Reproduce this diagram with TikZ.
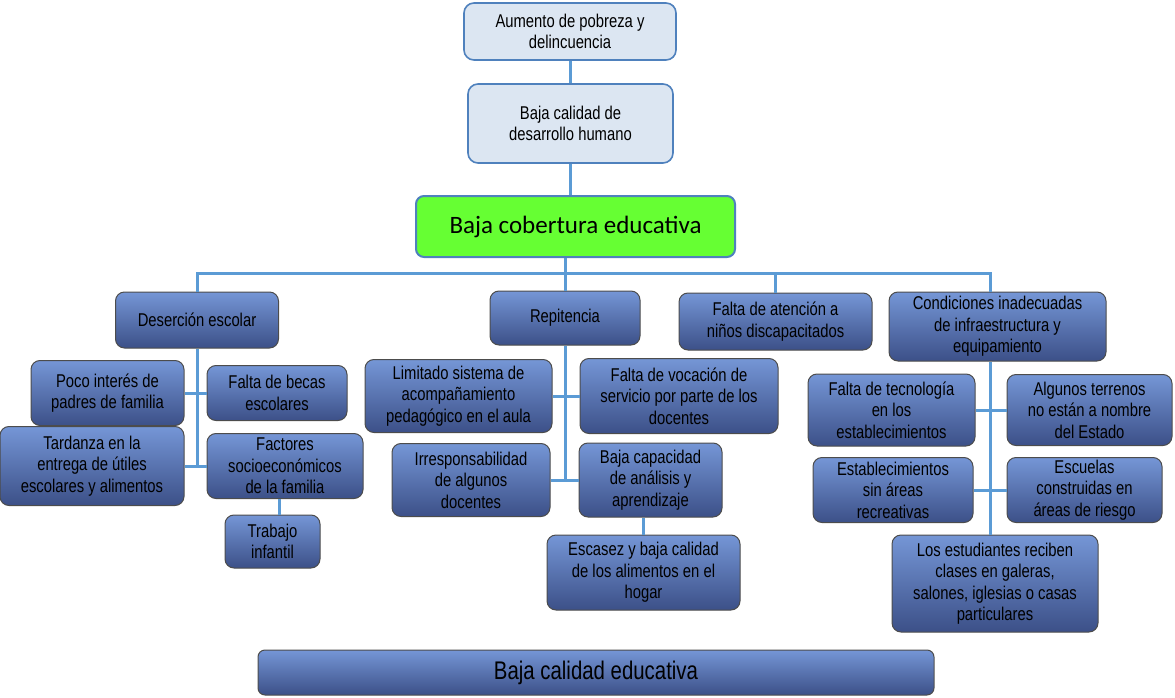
\documentclass[tikz,border=0pt]{standalone}
\usepackage{fontspec}
\setmainfont[FakeStretch=0.80]{Liberation Sans}
\newfontfamily\calibri{Carlito}
\definecolor{conector}{HTML}{5B9BD5}
\definecolor{cajaarriba}{HTML}{7596D6}
\definecolor{cajaabajo}{HTML}{3C5088}
\definecolor{efectofondo}{HTML}{DCE6F2}
\definecolor{efectoborde}{HTML}{4F81BD}
\definecolor{verde}{HTML}{66FF33}
\begin{document}
\begin{tikzpicture}[x=1pt,y=-1pt,
  causa/.style={draw=black!70,line width=1pt,rounded corners=9pt,top color=cajaarriba,bottom color=cajaabajo,align=center,inner sep=1pt,font=\fontsize{18.5}{21.5}\selectfont},
  efecto/.style={draw=efectoborde,line width=1.6pt,rounded corners=10pt,fill=efectofondo,align=center,inner sep=1pt,font=\fontsize{18.5}{21.5}\selectfont},
  linea/.style={conector,line width=3pt}]
\useasboundingbox (0,0) rectangle (1175,698);
% efectos
\node[efecto,minimum width=212pt,minimum height=57pt] (aum) at (570,31.5) {Aumento de pobreza y\\delincuencia};
\node[efecto,minimum width=205pt,minimum height=79pt] (des) at (570.5,123.5) {Baja calidad de\\desarrollo humano};
\node[draw=efectoborde,line width=2pt,rounded corners=8pt,fill=verde,minimum width=319pt,minimum height=61pt,font=\calibri\fontsize{25}{29}\selectfont] (cob) at (575.5,226.5) {Baja cobertura educativa};
% causas directas
\node[causa,minimum width=163pt,minimum height=56pt] (deser) at (197,320) {Deserción escolar};
\node[causa,minimum width=150pt,minimum height=54pt] (rep) at (565,318) {Repitencia};
\node[causa,minimum width=193pt,minimum height=57pt] (aten) at (775.5,321.5) {Falta de atención a\\niños discapacitados};
\node[causa,minimum width=217pt,minimum height=69pt] (infra) at (997.5,326.5) {Condiciones inadecuadas\\de infraestructura y\\equipamiento};
% desercion
\node[causa,minimum width=153pt,minimum height=65pt] (poco) at (107.5,393) {Poco interés de\\padres de familia};
\node[causa,minimum width=140pt,minimum height=55pt] (becas) at (277,393) {Falta de becas\\escolares};
\node[causa,minimum width=184pt,minimum height=79pt] (tard) at (92,466) {Tardanza en la\\entrega de útiles\\escolares y alimentos};
\node[causa,minimum width=156pt,minimum height=65pt] (fact) at (285,466) {Factores\\socioeconómicos\\de la familia};
\node[causa,minimum width=95pt,minimum height=53pt] (trab) at (272.5,541.5) {Trabajo\\infantil};
% repitencia
\node[causa,minimum width=187pt,minimum height=73pt] (lim) at (458.5,396) {Limitado sistema de\\acompañamiento\\pedagógico en el aula};
\node[causa,minimum width=198pt,minimum height=75pt] (voc) at (679,396) {Falta de vocación de\\servicio por parte de los\\docentes};
\node[causa,minimum width=158pt,minimum height=73pt] (irr) at (471,480) {Irresponsabilidad\\de algunos\\docentes};
\node[causa,minimum width=143pt,minimum height=74pt] (cap) at (650.5,480) {Baja capacidad\\de análisis y\\aprendizaje};
\node[causa,minimum width=193pt,minimum height=75pt] (esc) at (643.5,572.5) {Escasez y baja calidad\\de los alimentos en el\\hogar};
% infraestructura
\node[causa,minimum width=167pt,minimum height=72pt] (tec) at (891.5,410) {Falta de tecnología\\en los\\establecimientos};
\node[causa,minimum width=165pt,minimum height=71pt] (ter) at (1089.5,410) {Algunos terrenos\\no están a nombre\\del Estado};
\node[causa,minimum width=160pt,minimum height=65pt] (rec) at (893,490) {Establecimientos\\sin áreas\\recreativas};
\node[causa,minimum width=155pt,minimum height=65pt] (rie) at (1084.5,490) {Escuelas\\construidas en\\áreas de riesgo};
\node[causa,minimum width=206pt,minimum height=97pt] (gal) at (995,583.5) {Los estudiantes reciben\\clases en galeras,\\salones, iglesias o casas\\particulares};
% problema
\node[causa,rounded corners=7pt,minimum width=676pt,minimum height=45pt,font=\fontsize{25.5}{29}\selectfont] (cal) at (596,672.5) {Baja calidad educativa};
% conectores
\coordinate (bus) at (565,273);
\coordinate (kt) at (990,273);
\draw[linea] (aum) -- (des.north -| aum) (des) -- (des |- cob.north) (cob.south -| bus) -- (bus);
\draw[linea] (bus) -| (deser) (bus) -- (rep) (bus) -| (aten) (bus) -- (kt) -- (kt |- infra.north);
\draw[linea] (deser) -- (deser |- tard) (poco) -- (becas) (tard) -- (fact) (fact.south -| 279,0) -- (trab.north -| 279,0);
\draw[linea] (rep) -- (rep |- irr) (lim) -- (voc) (irr) -- (cap) (cap.south -| esc) -- (esc);
\draw[linea] (infra.south -| kt) -- (kt |- gal.north) (tec) -- (ter) (rec) -- (rie);
\end{tikzpicture}
\end{document}
